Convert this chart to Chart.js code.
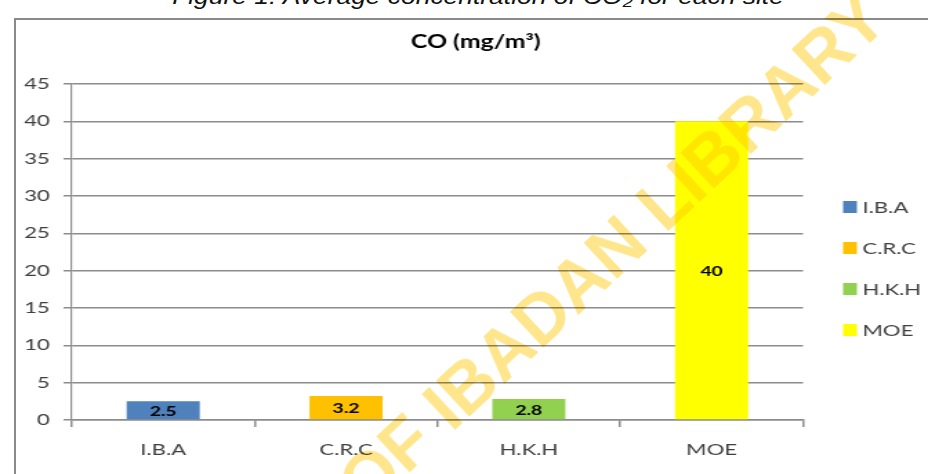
<!DOCTYPE html>
<html>
<head>
<meta charset="utf-8">
<script src="https://cdn.jsdelivr.net/npm/chart.js@4.4.1/dist/chart.umd.min.js"></script>
<style>
  html, body { margin: 0; padding: 0; background: #fff; }
  body { width: 928px; height: 474px; overflow: hidden; position: relative; }
  #caption {
    position: absolute; left: 0; width: 956px; top: -14px;
    text-align: center; font: italic 22px "Liberation Sans", Arial, sans-serif;
    line-height: 22px; color: #111; white-space: nowrap;
    transform: scaleX(1.2); transform-origin: 478px 0;
  }
  #frame {
    position: absolute; left: 14px; top: 18px; width: 1000px; height: 600px;
    border: 2px solid #8a8a8a; box-sizing: border-box;
  }
  #chart { position: absolute; left: 0; top: 0; }
  #mark {
    position: absolute; left: 350px; top: 460px; transform-origin: 0 35px;
    transform: rotate(-43deg); font: bold 70px "Liberation Sans", Arial, sans-serif;
    line-height: 70px; white-space: nowrap; color: rgb(255, 230, 140);
    mix-blend-mode: multiply; pointer-events: none;
  }
</style>
</head>
<body>
<div id="caption">Figure 1: Average concentration of CO₂ for each site</div>
<div id="frame"></div>
<!-- the source picture is stretched sideways, so the canvas is drawn narrow and shown wide -->
<canvas id="chart" width="672" height="474" style="width:928px;height:474px"></canvas>
<div id="mark">OF IBADAN LIBRARY</div>
<script>
/* ── data ── */
const sites = ['I.B.A', 'C.R.C', 'H.K.H', 'MOE'];
const coValues = [2.5, 3.2, 2.8, 40];
const barColors = ['#4F81BD', '#FFC000', '#92D050', '#FFFF00'];
const yTicks = [0, 5, 10, 15, 20, 25, 30, 35, 40, 45];

const FONT = 'Lato, "Open Sans", sans-serif';
const GRID = '#8c8c8c';

// one dataset per site, value only in its own category
const datasets = sites.map((s, i) => ({
    label: s,
    data: sites.map((_, j) => (j === i ? coValues[i] : null)),
    backgroundColor: barColors[i],
    skipNull: true,
    categoryPercentage: 0.4,
    barPercentage: 1
}));

// value labels in the middle of each bar
const barLabels = {
    id: 'barLabels',
    afterDatasetsDraw(chart) {
        const ctx = chart.ctx;
        ctx.save();
        ctx.font = 'bold 14px ' + FONT;
        ctx.fillStyle = '#000';
        ctx.textAlign = 'center';
        ctx.textBaseline = 'middle';
        chart.data.datasets.forEach((ds, i) => {
            chart.getDatasetMeta(i).data.forEach((bar, j) => {
                if (ds.data[j] == null) return;
                ctx.fillText(String(ds.data[j]), bar.x, (bar.y + bar.base) / 2 + 1);
            });
        });
        ctx.restore();
    }
};

// legend on the right, Excel style
const sideLegend = {
    id: 'sideLegend',
    afterDraw(chart) {
        const ctx = chart.ctx;
        const x0 = chart.chartArea.right + 29;
        ctx.save();
        ctx.font = '16px ' + FONT;
        ctx.textBaseline = 'middle';
        chart.data.datasets.forEach((ds, i) => {
            const y = 207 + i * 41;
            ctx.fillStyle = ds.backgroundColor;
            ctx.fillRect(x0, y - 6, 10, 12);
            ctx.fillStyle = '#404040';
            ctx.fillText(ds.label, x0 + 14, y + 1);
        });
        ctx.restore();
    }
};

new Chart(document.getElementById('chart'), {
    type: 'bar',
    data: { labels: sites, datasets: datasets },
    plugins: [barLabels, sideLegend],
    options: {
        responsive: false,
        animation: false,
        layout: { padding: { left: 17, right: 0, top: 0, bottom: 0 } },
        plugins: {
            legend: { display: false },
            tooltip: { enabled: false },
            title: {
                display: true,
                text: 'CO (mg/m³)',
                color: '#000',
                font: { family: FONT, size: 18, weight: 'bold' },
                padding: { top: 31.2, bottom: 31.2 }
            }
        },
        scales: {
            x: {
                afterFit(scale) { scale.height = 54; },
                grid: { display: true, drawOnChartArea: false, color: GRID, lineWidth: 1.5, tickLength: 7, offset: true },
                border: { color: GRID, width: 1.5 },
                ticks: { color: '#404040', padding: 13, font: { family: FONT, size: 16 } }
            },
            y: {
                min: 0,
                max: 45,
                afterFit(scale) { scale.width = 35; },
                afterBuildTicks(scale) { scale.ticks = yTicks.map(v => ({ value: v })); },
                grid: { color: GRID, lineWidth: 1.5, tickLength: 6 },
                border: { color: GRID, width: 1.2 },
                ticks: { color: '#404040', padding: 10, font: { family: FONT, size: 16 } }
            },
            // empty axis that keeps room for the legend
            side: {
                position: 'right',
                afterFit(scale) { scale.width = 90.5; },
                grid: { display: false },
                border: { display: false },
                ticks: { display: false }
            }
        }
    }
});
</script>
</body>
</html>
